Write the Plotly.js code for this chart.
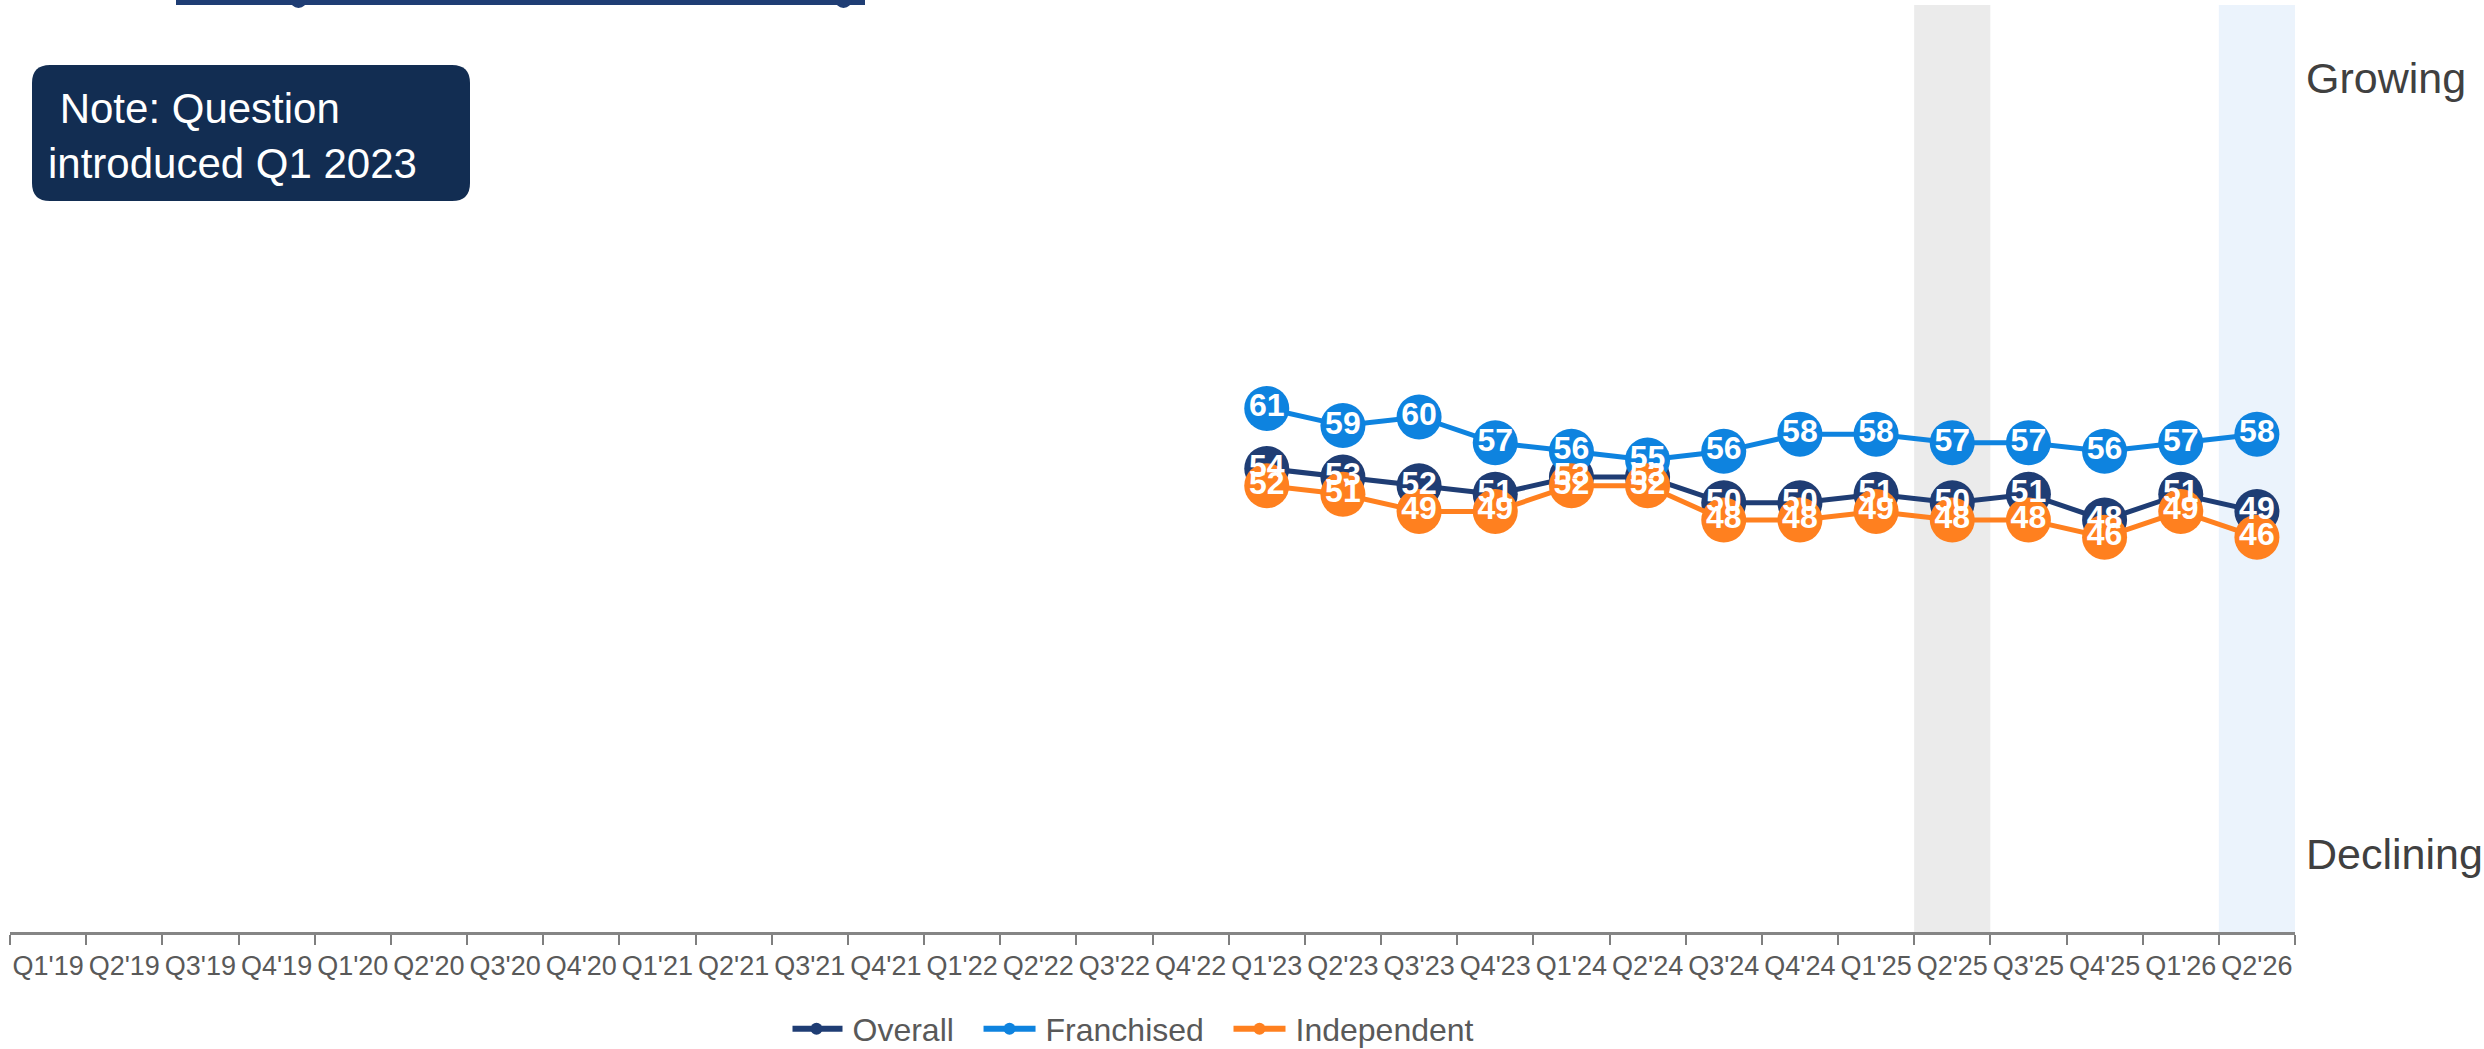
<!DOCTYPE html>
<html>
<head>
<meta charset="utf-8">
<script src="https://cdn.plot.ly/plotly-3.0.1.min.js"></script>
<style>
  html, body { margin: 0; padding: 0; background: #ffffff; }
  #chart { width: 2484px; height: 1049px; }
</style>
</head>
<body>
<div id="chart"></div>
<script>
// Quarterly index, question introduced Q1 2023
const quarters = [
  "Q1'19","Q2'19","Q3'19","Q4'19","Q1'20","Q2'20","Q3'20","Q4'20",
  "Q1'21","Q2'21","Q3'21","Q4'21","Q1'22","Q2'22","Q3'22","Q4'22",
  "Q1'23","Q2'23","Q3'23","Q4'23","Q1'24","Q2'24","Q3'24","Q4'24",
  "Q1'25","Q2'25","Q3'25","Q4'25","Q1'26","Q2'26"
];
const surveyQuarters = [
  "Q1'23","Q2'23","Q3'23","Q4'23","Q1'24","Q2'24","Q3'24","Q4'24",
  "Q1'25","Q2'25","Q3'25","Q4'25","Q1'26","Q2'26"
];
const overall     = [54, 53, 52, 51, 53, 53, 50, 50, 51, 50, 51, 48, 51, 49];
const franchised  = [61, 59, 60, 57, 56, 55, 56, 58, 58, 57, 57, 56, 57, 58];
const independent = [52, 51, 49, 49, 52, 52, 48, 48, 49, 48, 48, 46, 49, 46];

const seriesNames = ["Overall", "Franchised", "Independent"];
const highlightGrey = "Q2'25";
const highlightBlue = "Q2'26";
const noteText = "&nbsp;Note: Question<br>introduced Q1 2023";
const scaleTop = "Growing";
const scaleBottom = "Declining";

const FONT = "Liberation Sans, Arial, sans-serif";
const COLORS = ["#1F3D74", "#0E83DF", "#FF801F"];
const values = [overall, franchised, independent];

// plot area in page pixels
const W = 2484, H = 1049;
const M = { l: 10, r: 189, t: 5, b: 117 };
const PW = W - M.l - M.r, PH = H - M.t - M.b;
const px = x => (x - M.l) / PW;
const py = y => (H - M.b - y) / PH;

function roundedRect(x0, y0, x1, y1, r) {
  const rx = r / PW, ry = r / PH;
  const a = px(x0), b = px(x1), top = py(y0), bot = py(y1);
  return `M${a + rx},${top} L${b - rx},${top} Q${b},${top} ${b},${top - ry} ` +
         `L${b},${bot + ry} Q${b},${bot} ${b - rx},${bot} ` +
         `L${a + rx},${bot} Q${a},${bot} ${a},${bot + ry} ` +
         `L${a},${top - ry} Q${a},${top} ${a + rx},${top} Z`;
}

const pad = "\u00A0\u00A0\u00A0";
const traces = [];
// lines with markers
values.forEach((v, i) => {
  traces.push({
    type: "scatter",
    mode: "lines+markers",
    name: seriesNames[i] + (i < values.length - 1 ? pad : ""),
    x: surveyQuarters,
    y: v,
    line: { color: COLORS[i], width: 5 },
    marker: { color: COLORS[i], size: 45, line: { width: 0 } },
    hoverinfo: "x+y",
    cliponaxis: false
  });
});
// value labels on top of every marker
values.forEach((v, i) => {
  traces.push({
    type: "scatter",
    mode: "text",
    x: surveyQuarters,
    y: v,
    text: v.map(String),
    textposition: "middle center",
    textfont: { family: FONT, size: 32, color: "#ffffff", weight: "bold" },
    showlegend: false,
    hoverinfo: "skip",
    cliponaxis: false
  });
});

const gi = quarters.indexOf(highlightGrey);
const bi = quarters.indexOf(highlightBlue);

const shapes = [
  { type: "rect", xref: "x", yref: "paper", x0: gi - 0.5, x1: gi + 0.5, y0: 0, y1: 1,
    fillcolor: "#EBEBEB", line: { width: 0 }, layer: "below" },
  { type: "rect", xref: "x", yref: "paper", x0: bi - 0.5, x1: bi + 0.5, y0: 0, y1: 1,
    fillcolor: "#EBF3FC", line: { width: 0 }, layer: "below" },
  // note box
  { type: "path", xref: "paper", yref: "paper", path: roundedRect(32, 65, 470, 201, 18),
    fillcolor: "#122D52", line: { width: 0 }, layer: "above" },
  // header strip
  { type: "rect", xref: "paper", yref: "paper", x0: px(176), x1: px(865), y0: py(5), y1: py(-5),
    fillcolor: "#1F3D74", line: { width: 0 }, layer: "above" },
  { type: "circle", xref: "paper", yref: "paper", x0: px(290), x1: px(307), y0: py(8), y1: py(-9),
    fillcolor: "#1F3D74", line: { width: 0 }, layer: "above" },
  { type: "circle", xref: "paper", yref: "paper", x0: px(835), x1: px(852), y0: py(8), y1: py(-9),
    fillcolor: "#1F3D74", line: { width: 0 }, layer: "above" }
];

const annotations = [
  { xref: "paper", yref: "paper", x: px(46), y: py(136), xanchor: "left", yanchor: "middle",
    align: "left", showarrow: false, text: noteText,
    font: { family: FONT, size: 42, color: "#ffffff" } },
  { xref: "paper", yref: "y", x: 1, y: 100, xanchor: "left", yanchor: "middle", xshift: 9, yshift: -4,
    showarrow: false, text: scaleTop, font: { family: FONT, size: 43, color: "#404040" } },
  { xref: "paper", yref: "y", x: 1, y: 9.5, xanchor: "left", yanchor: "middle", xshift: 9, yshift: -4,
    showarrow: false, text: scaleBottom, font: { family: FONT, size: 43, color: "#404040" } }
];

const layout = {
  width: W, height: H,
  margin: M,
  paper_bgcolor: "#ffffff",
  plot_bgcolor: "rgba(0,0,0,0)",
  font: { family: FONT, color: "#595959" },
  showlegend: true,
  legend: {
    orientation: "h",
    xref: "container", yref: "container",
    x: 1136 / W, xanchor: "center", y: (H - 1029) / H, yanchor: "middle",
    font: { family: FONT, size: 32, color: "#595959" },
    itemsizing: "constant", itemwidth: 50, bgcolor: "rgba(0,0,0,0)"
  },
  xaxis: {
    type: "category",
    categoryorder: "array",
    categoryarray: quarters,
    tickvals: quarters,
    range: [-0.5, quarters.length - 0.5],
    tickson: "boundaries",
    ticks: "outside", ticklen: 10, tickwidth: 2, tickcolor: "#7F7F7F",
    ticklabelstandoff: 8,
    showline: true, linecolor: "#858585", linewidth: 3,
    showgrid: false, zeroline: false,
    tickfont: { family: FONT, size: 27, color: "#595959" },
    tickangle: 0, automargin: false, fixedrange: true
  },
  yaxis: {
    range: [0, 108],
    visible: false, showgrid: false, zeroline: false, fixedrange: true
  },
  shapes: shapes,
  annotations: annotations
};

Plotly.newPlot("chart", traces, layout, { displayModeBar: false, staticPlot: true }).then(gd => {
  // longer, heavier legend line swatches
  gd.querySelectorAll(".legend .legendlines path").forEach(p => {
    p.setAttribute("d", "M-2,0h52");
    p.style.strokeWidth = "6px";
  });
  gd.querySelectorAll(".legend .legendpoints path").forEach(p => {
    p.setAttribute("transform", "translate(24,0)");
  });
});
</script>
</body>
</html>
